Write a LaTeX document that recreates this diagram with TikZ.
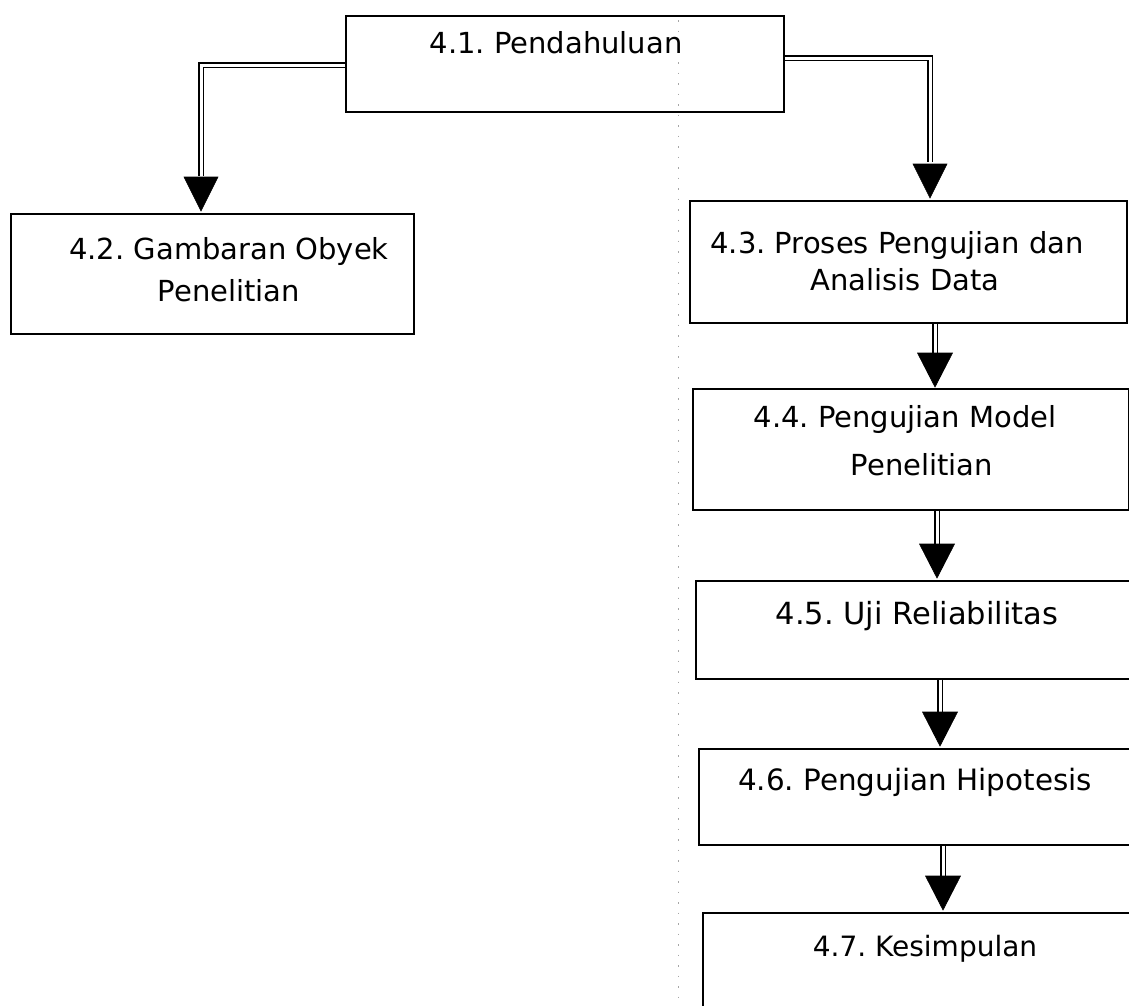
\documentclass[tikz,border=0pt]{standalone}
\usepackage{fontspec}
\setmainfont{DejaVu Sans}
\usetikzlibrary{arrows.meta,calc}

\tikzset{
  x=1pt, y=-1pt,
  box/.style={draw=black, line width=1.8pt, rectangle, inner sep=0pt, anchor=north west},
  lbl/.style={inner sep=0pt, anchor=base, text=black},
  pipe/.style={draw=black, double=white, double distance=3pt, line width=1.6pt},
  head/.style={fill=black, draw=black, line width=0.6pt},
  scanline/.style={draw=black!35, line width=0.8pt, dash pattern=on 1.5pt off 9pt}
}

\newcommand{\fs}[1]{\fontsize{#1}{#1}\selectfont}

\begin{document}
\frenchspacing
\begin{tikzpicture}
\useasboundingbox (0,0) rectangle (1129,1005);
\fill[white] (0,0) rectangle (1129,1005);

% faint vertical dotted trace
\draw[scanline] (678,20) -- (678,1005);

% boxes
\node[box, minimum width=438pt, minimum height=96pt] (b1) at (345,15) {};
\node[box, minimum width=403pt, minimum height=120pt] (b2) at (10,213) {};
\node[box, minimum width=437pt, minimum height=122pt] (b3) at (689,200) {};
\node[box, minimum width=436pt, minimum height=121pt] (b4) at (692,388) {};
\node[box, minimum width=440pt, minimum height=98pt] (b5) at (695,580) {};
\node[box, minimum width=440pt, minimum height=96pt] (b6) at (698,748) {};
\node[box, minimum width=440pt, minimum height=100pt] (b7) at (702,912) {};

% labels
\node[lbl, font=\fs{29}] (t1) at (556,53) {4.1. Pendahuluan};
\node[lbl, font=\fs{29}] (t2a) at (229,259) {4.2. Gambaran Obyek};
\node[lbl, font=\fs{29}] (t2b) at (229,301) {Penelitian};
\node[lbl, font=\fs{29}] (t3a) at (897,253) {4.3. Proses Pengujian dan};
\node[lbl, font=\fs{29}] (t3b) at (905,290) {Analisis Data};
\node[lbl, font=\fs{29}] (t4a) at (905,427) {4.4. Pengujian Model};
\node[lbl, font=\fs{29}] (t4b) at (922,475) {Penelitian};
\node[lbl, font=\fs{30.5}] (t5) at (917,624) {4.5. Uji Reliabilitas};
\node[lbl, font=\fs{29.4}] (t6) at (915,790) {4.6. Pengujian Hipotesis};
\node[lbl, font=\fs{28}] (t7) at (925,956) {4.7. Kesimpulan};

% connector bends and tips
\coordinate (cL) at (201,65);
\coordinate (cR) at (930,58);

\draw[pipe] (b1.west |- cL) -- (cL) -- ++(0,111);
\fill[head] (201,211) -- (184,177) -- (218,177) -- cycle;

\draw[pipe] (b1.east |- cR) -- (cR) -- ++(0,104);
\fill[head] (930,198) -- (913,164) -- (947,164) -- cycle;

% vertical links between the analysis boxes
\foreach \up/\dn/\xx/\tip in {b3/b4/935/387, b4/b5/937/578, b5/b6/940/746, b6/b7/943/910}{
  \draw[pipe] (\up.south -| \xx,0) -- (\xx,\tip-33);
  \fill[head] (\xx,\tip) -- (\xx-17.5,\tip-34) -- (\xx+17.5,\tip-34) -- cycle;
}
\end{tikzpicture}
\end{document}
